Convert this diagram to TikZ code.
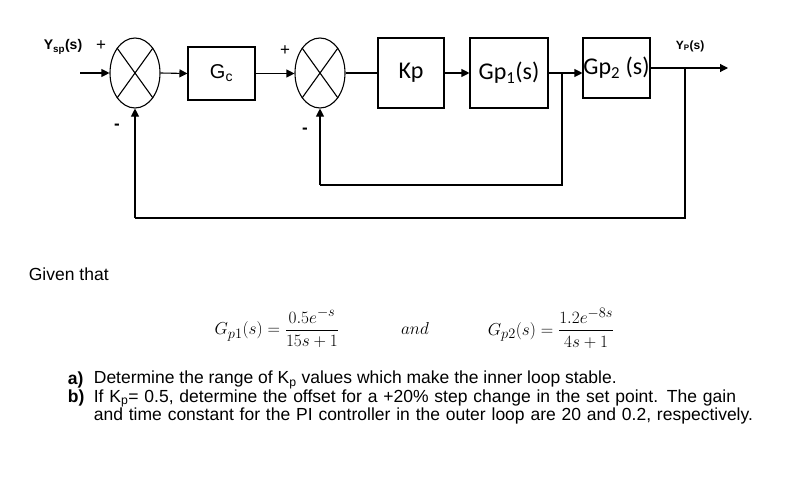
\documentclass[tikz,border=0pt]{standalone}
\usepackage{amsmath}
\usepackage{fontspec}
\setmainfont{Liberation Sans}
\newfontfamily\blk{Carlito}
\usetikzlibrary{arrows.meta,shapes.geometric}
\begin{document}
\begin{tikzpicture}[x=1pt,y=-1pt,
  line width=1.1pt, >={Triangle[length=8pt,width=8pt]},
  sumj/.style={draw,ellipse,minimum width=50pt,minimum height=70pt,inner sep=0pt},
  blkst/.style={draw,rectangle,inner sep=0pt},
  lbl/.style={font=\fontsize{17.5}{18}\selectfont}]
\useasboundingbox (0,0) rectangle (790,490);
% summing junctions
\node[sumj] (s1) at (135,73) {};
\node[sumj] (s2) at (320,73) {};
\foreach \s in {s1,s2}{
 \draw (\s.north west) -- (\s.south east);
 \draw (\s.north east) -- (\s.south west);}
% blocks
\node[blkst,minimum width=67pt,minimum height=53pt] (gc) at (221.5,73.5) {\fontsize{20}{20}\selectfont\rmfamily G\textsubscript{c}};
\node[blkst,minimum width=66pt,minimum height=70pt] (kp) at (411,73) {\blk\fontsize{24}{24}\selectfont Kp};
\node[blkst,minimum width=78pt,minimum height=70pt] (gp1) at (509,73) {\blk\fontsize{24}{24}\selectfont Gp\textsubscript{1}(s)};
\node[blkst,minimum width=67pt,minimum height=60pt] (gp2) at (616.5,68) {\blk\fontsize{24}{24}\selectfont Gp\textsubscript{2} (s)};
\coordinate (in) at (80,73);
\coordinate (out) at (728,68);
\coordinate (b1) at (562,73);
\coordinate (b1d) at (562,185);
\coordinate (f1) at (320,185);
\coordinate (b2) at (685,68);
\coordinate (b2d) at (685,218);
\coordinate (f2) at (135,218);
% connections
\draw[->] (in) -- (s1.west);
\draw[->] (s1.east) -- (gc.west);
\draw[->] (gc.east) -- (gc.east -| s2.west);
\draw (s2.east) -- (kp.west);
\draw[->] (kp.east) -- (gp1.west);
\draw[->] (gp1.east) -- (gp1.east -| gp2.west);
\draw[->] (gp2.east) -- (out);
\draw (b1) -- (b1d) -- (f1);
\draw[->] (f1) -- (s2.south);
\draw (b2) -- (b2d) -- (f2);
\draw[->] (f2) -- (s1.south);
% signs and signal labels
\node[font=\bfseries\fontsize{14}{14}\selectfont] (ysp) at (63,47) {Y\textsubscript{sp}(s)};
\node[font=\fontsize{17}{17}\selectfont] (p1) at (101,46) {+};
\node[font=\bfseries\fontsize{17}{17}\selectfont] (m1) at (117,127) {-};
\node[font=\fontsize{17}{17}\selectfont] (p2) at (285,51) {+};
\node[font=\bfseries\fontsize{17}{17}\selectfont] (m2) at (305,131) {-};
\node[font=\bfseries\fontsize{12}{12}\selectfont] (yp) at (690,46) {Y\textsubscript{P}(s)};
% text
\node[lbl,anchor=west] (given) at (25,274) {Given that};
\node[anchor=east,font=\fontsize{19}{19}\selectfont] (eq1) at (343,328) {$G_{p1}(s)=\dfrac{0.5e^{-s}}{15s+1}$};
\node[font=\fontsize{19}{19}\selectfont] (and) at (415,328) {$and$};
\node[anchor=west,font=\fontsize{19}{19}\selectfont] (eq2) at (484,328) {$G_{p2}(s)=\dfrac{1.2e^{-8s}}{4s+1}$};
\node[lbl,anchor=west,font=\bfseries\fontsize{17.5}{18}\selectfont] (la) at (64,380) {a)};
\node[lbl,anchor=west] (ta) at (90,380) {Determine the range of K\textsubscript{p} values which make the inner loop stable.};
\node[lbl,anchor=west,font=\bfseries\fontsize{17.5}{18}\selectfont] (lb) at (64,398) {b)};
\node[lbl,anchor=north west,align=left,text width=670pt,inner sep=0pt] (tb) at (93.3,389) {If K\textsubscript{p}= 0.5, determine the offset for a +20\% step change in the set point. The gain and time constant for the PI controller in the outer loop are 20 and 0.2, respectively.};
\end{tikzpicture}
\end{document}
